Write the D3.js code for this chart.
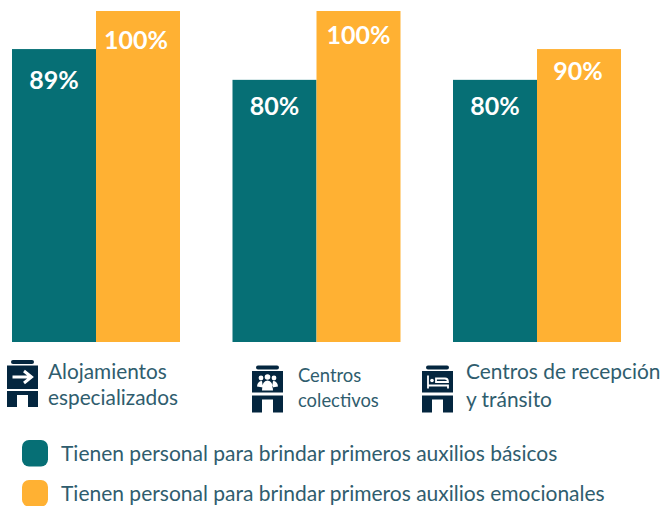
<!DOCTYPE html>
<html>
<head>
<meta charset="utf-8">
<script src="https://cdn.jsdelivr.net/npm/d3@7"></script>
<style>
  html, body { margin: 0; padding: 0; background: #fff; }
  text { font-family: Lato, "Open Sans", sans-serif; }
</style>
</head>
<body>
<div id="chart"></div>
<script>
// categories and series
// (bar heights in the original are not quite proportional to their labels)
var categories = ["Alojamientos especializados", "Centros colectivos", "Centros de recepción y tránsito"];
var seriesNames = [
  "Tienen personal para brindar primeros auxilios básicos",
  "Tienen personal para brindar primeros auxilios emocionales"
];
var basicos = [88.5, 79.2, 79.2];
var emocionales = [100, 100, 88.5];
var basicosLabels = ["89%", "80%", "80%"];
var emocionalesLabels = ["100%", "100%", "90%"];
var categoryLines = [
  ["Alojamientos", "especializados"],
  ["Centros", "colectivos"],
  ["Centros de recepción", "y tránsito"]
];
var colors = ["#066f75", "#ffb133"];

var width = 662, height = 506;
var textColor = "#2f5d6e", iconColor = "#04263f";

var svg = d3.select("#chart").append("svg")
  .attr("width", width)
  .attr("height", height)
  .style("display", "block");

var x = d3.scaleBand()
  .domain(categories)
  .range([12, 621])
  .paddingInner(52.5 / 220.5);

var x1 = d3.scaleBand()
  .domain([0, 1])
  .range([0, x.bandwidth()]);

var y = d3.scaleLinear()
  .domain([0, 100])
  .range([342, 11]);

// the % labels sit a bit differently in each bar: baseline below bar top, and x nudge
var labelDrop = [[40, 35, 35], [38, 33, 31]];
var labelNudge = [[0, 0, 0], [-2, 0, -1]];

// bars + labels for both series
[basicos, emocionales].forEach(function(values, s) {
  var labels = s == 0 ? basicosLabels : emocionalesLabels;
  var g = svg.append("g");

  g.selectAll("rect")
    .data(values)
    .enter()
    .append("rect")
      .attr("x", function(d, i){ return x(categories[i]) + x1(s) })
      .attr("y", function(d){ return y(d) })
      .attr("width", x1.bandwidth())
      .attr("height", function(d){ return y(0) - y(d) })
      .style("fill", colors[s]);

  g.selectAll("text")
    .data(values)
    .enter()
    .append("text")
      .attr("x", function(d, i){ return x(categories[i]) + x1(s) + x1.bandwidth() / 2 + labelNudge[s][i] })
      .attr("y", function(d, i){ return y(d) + labelDrop[s][i] })
      .attr("text-anchor", "middle")
      .style("font-size", "25px")
      .style("font-weight", 700)
      .style("fill", "#fff")
      .text(function(d, i){ return labels[i] });
});

// building icon, drawn around its top left corner
function drawIcon(g, kind) {
  var bodyEnd = kind == 0 ? 29 : 27;
  var lowerTop = kind == 0 ? 31 : 30;
  g.append("rect").attr("x", 4).attr("width", 23).attr("height", 4).attr("rx", 2).style("fill", iconColor);
  g.append("rect").attr("y", 5.5).attr("width", 31).attr("height", bodyEnd - 5.5).style("fill", iconColor);
  g.append("path")
    .attr("d", "M0 " + lowerTop + "H31V47H21V" + (lowerTop + 4) + "H10V47H0Z")
    .style("fill", iconColor);

  if (kind == 0) {
    // arrow
    g.append("path")
      .attr("d", "M5.5 17H24.5M17 11L24.5 17L17 23")
      .style("fill", "none").style("stroke", "#fff").style("stroke-width", 3);
  } else if (kind == 1) {
    // people
    [[9, 12.5, 2.4], [22, 12.5, 2.4], [15.5, 11.5, 2.8]].forEach(function(c) {
      g.append("circle").attr("cx", c[0]).attr("cy", c[1]).attr("r", c[2]).style("fill", "#fff");
    });
    g.append("path")
      .attr("d", "M5 21Q5.5 15.5 10 15.5L11 22Z M26 21Q25.5 15.5 21 15.5L20 22Z M10 25Q10 15 15.5 15Q21 15 21 25Z")
      .style("fill", "#fff");
  } else {
    // bed
    g.append("path")
      .attr("d", "M6 10V23M6 20H26V23M14 13H23Q26 13 26 16.5H14Z")
      .style("fill", "none").style("stroke", "#fff").style("stroke-width", 1.8);
    g.append("circle").attr("cx", 10).attr("cy", 15).attr("r", 1.8).style("fill", "#fff");
  }
}

var iconPos = [[7, 360], [252, 365.5], [422, 365.5]];
// x, first baseline, line gap, font size
var labelPos = [[48, 379, 26, 20.8], [298, 382, 25, 18.4], [466, 379, 28, 20.9]];

categories.forEach(function(c, i) {
  var g = svg.append("g").attr("transform", "translate(" + iconPos[i][0] + "," + iconPos[i][1] + ")");
  drawIcon(g, i);

  svg.append("g").selectAll("text")
    .data(categoryLines[i])
    .enter()
    .append("text")
      .attr("x", labelPos[i][0])
      .attr("y", function(d, j){ return labelPos[i][1] + j * labelPos[i][2] })
      .style("font-size", labelPos[i][3] + "px")
      .style("fill", textColor)
      .text(function(d){ return d });
});

// legend
var legend = d3.scaleBand()
  .domain(seriesNames)
  .range([433, 513]);

svg.append("g").selectAll("rect")
  .data(seriesNames)
  .enter()
  .append("rect")
    .attr("x", 22)
    .attr("y", function(d){ return legend(d) + 7 })
    .attr("width", 26)
    .attr("height", 26.5)
    .attr("rx", 7)
    .style("fill", function(d, i){ return colors[i] });

svg.append("g").selectAll("text")
  .data(seriesNames)
  .enter()
  .append("text")
    .attr("x", 61)
    .attr("y", function(d){ return legend(d) + 27.5 })
    .style("font-size", "21px")
    .style("fill", textColor)
    .text(function(d){ return d });
</script>
</body>
</html>
